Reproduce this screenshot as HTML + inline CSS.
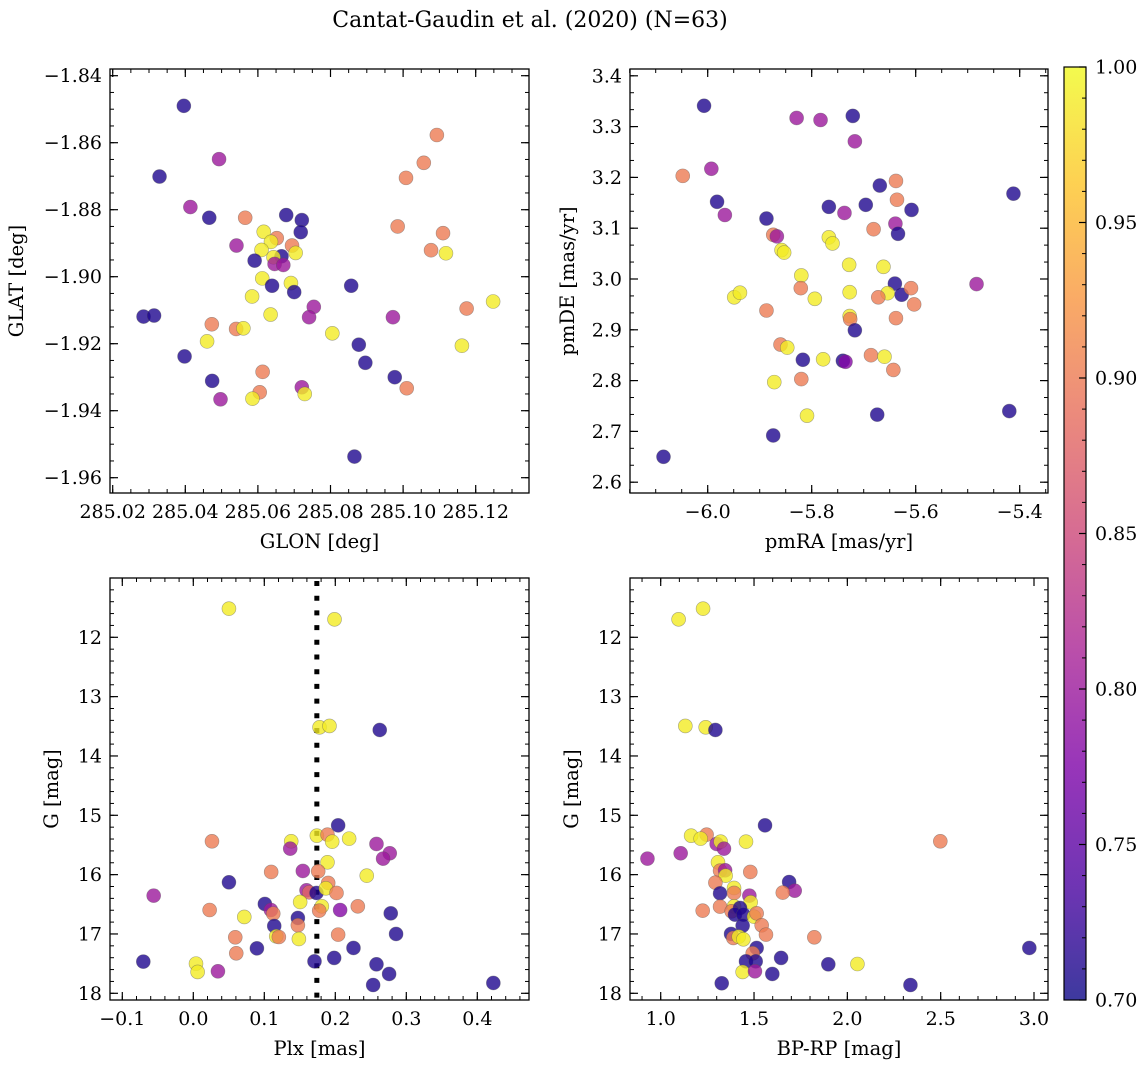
<!DOCTYPE html>
<html><head><meta charset="utf-8">
<style>
html,body{margin:0;padding:0;background:#fff;}
svg{display:block;font-family:"DejaVu Serif","Liberation Serif",serif;}
</style></head>
<body>
<svg id="fig" width="1148" height="1067" viewBox="0 0 1148 1067" xmlns="http://www.w3.org/2000/svg">
<defs>
<linearGradient id="cbgrad" x1="0" y1="1" x2="0" y2="0">
<stop offset="0" stop-color="#0d0887"/><stop offset="0.125" stop-color="#4c02a1"/><stop offset="0.25" stop-color="#7e03a8"/><stop offset="0.375" stop-color="#a92395"/><stop offset="0.5" stop-color="#cc4778"/><stop offset="0.625" stop-color="#e66c5c"/><stop offset="0.75" stop-color="#f89540"/><stop offset="0.875" stop-color="#fdc527"/><stop offset="1" stop-color="#f0f921"/>
</linearGradient>
</defs>
<text x="530" y="27" text-anchor="middle" font-size="22">Cantat-Gaudin et al. (2020) (N=63)</text>
<g id="plots"></g>
<g>
<rect x="1064" y="67" width="22" height="933" fill="url(#cbgrad)" fill-opacity="0.8"/>
<rect x="1064" y="67" width="22" height="933" fill="none" stroke="#000" stroke-width="1.2"/>
<g id="cbticks"></g>
</g>
</svg>
<script>
// ---------- data ----------
const tlGlon=[285.0396,285.0329,285.0493,285.0414,285.0466,285.0565,285.0678,285.0721,285.0718,285.0616,285.0652,285.0636,285.0694,285.0704,285.0541,285.0610,285.0665,285.0643,285.0646,285.0670,285.0591,285.0612,285.0639,285.0691,285.0700,285.0584,285.0857,285.0754,285.0741,285.0635,285.0285,285.0314,285.0473,285.0540,285.0560,285.0460,285.0805,285.0972,285.0878,285.0896,285.0398,285.0474,285.0613,285.0497,285.0605,285.0585,285.0721,285.0729,285.0977,285.1010,285.0866,285.1093,285.1057,285.1008,285.0985,285.1110,285.1077,285.1118,285.1248,285.1175,285.1162];
const tlGlat=[-1.8490,-1.8701,-1.8649,-1.8792,-1.8824,-1.8824,-1.8816,-1.8831,-1.8867,-1.8866,-1.8885,-1.8896,-1.8907,-1.8929,-1.8907,-1.8920,-1.8939,-1.8942,-1.8962,-1.8965,-1.8952,-1.9005,-1.9027,-1.9019,-1.9046,-1.9059,-1.9027,-1.9090,-1.9121,-1.9113,-1.9119,-1.9116,-1.9142,-1.9156,-1.9154,-1.9193,-1.9169,-1.9121,-1.9203,-1.9257,-1.9238,-1.9311,-1.9284,-1.9366,-1.9345,-1.9364,-1.9330,-1.9350,-1.9300,-1.9333,-1.9537,-1.8577,-1.8660,-1.8705,-1.8850,-1.8870,-1.8921,-1.8930,-1.9074,-1.9095,-1.9206];
const tlProb=[0.71,0.71,0.80,0.80,0.71,0.90,0.71,0.71,0.71,0.99,0.90,0.99,0.90,0.99,0.80,0.99,0.71,0.99,0.80,0.80,0.71,0.99,0.71,0.99,0.71,0.99,0.71,0.80,0.80,0.99,0.71,0.71,0.90,0.90,0.99,0.99,0.99,0.80,0.71,0.71,0.71,0.71,0.90,0.80,0.90,0.99,0.80,0.99,0.71,0.90,0.71,0.90,0.90,0.90,0.90,0.90,0.90,0.99,0.99,0.90,0.99];

const trPmra=[-6.007,-5.829,-5.783,-5.721,-5.717,-5.993,-6.048,-5.982,-5.967,-5.887,-5.874,-5.867,-5.858,-5.853,-5.767,-5.737,-5.767,-5.760,-5.696,-5.669,-5.638,-5.636,-5.608,-5.681,-5.639,-5.634,-5.412,-5.483,-5.728,-5.662,-5.820,-5.821,-5.794,-5.727,-5.949,-5.938,-5.887,-5.640,-5.627,-5.609,-5.654,-5.672,-5.603,-5.727,-5.726,-5.638,-5.717,-5.860,-5.847,-5.817,-5.778,-5.740,-5.735,-5.686,-5.660,-5.643,-5.872,-5.820,-5.809,-5.674,-5.420,-5.874,-6.085];
const trPmde=[3.341,3.317,3.313,3.321,3.271,3.217,3.203,3.152,3.126,3.119,3.087,3.084,3.057,3.052,3.142,3.130,3.082,3.070,3.146,3.184,3.193,3.156,3.136,3.098,3.109,3.089,3.168,2.990,3.028,3.024,3.007,2.982,2.961,2.974,2.964,2.973,2.938,2.991,2.969,2.982,2.972,2.964,2.950,2.927,2.921,2.923,2.899,2.871,2.865,2.841,2.842,2.839,2.837,2.850,2.847,2.821,2.797,2.803,2.731,2.733,2.740,2.692,2.650];
const trProb=[0.71,0.80,0.80,0.71,0.80,0.80,0.90,0.71,0.80,0.71,0.90,0.80,0.99,0.99,0.71,0.80,0.99,0.99,0.71,0.71,0.90,0.90,0.71,0.90,0.80,0.71,0.71,0.80,0.99,0.99,0.99,0.90,0.99,0.99,0.99,0.99,0.90,0.71,0.71,0.90,0.99,0.90,0.90,0.99,0.90,0.90,0.71,0.90,0.99,0.71,0.99,0.71,0.78,0.90,0.99,0.90,0.99,0.90,0.99,0.71,0.71,0.71,0.71];

const blPlx=[0.0502,0.1989,0.1778,0.1918,0.2626,0.2040,0.0263,0.1379,0.1365,0.1740,0.1890,0.1956,0.2195,0.2580,0.2767,0.2673,0.1890,0.1097,0.1543,0.1759,0.2443,0.0502,-0.0558,0.1595,0.1632,0.1735,0.1900,0.1867,0.2017,0.1505,0.1008,0.1093,0.1126,0.0230,0.0718,0.1473,0.1473,0.1140,0.1810,0.1773,0.2068,0.2317,0.2781,0.2856,0.2040,0.0591,0.1168,0.1205,0.1487,0.0896,0.2256,0.0605,0.1707,0.1984,-0.0704,0.0038,0.0061,0.0347,0.2580,0.2758,0.2533,0.4226];
const blG=[11.517,11.697,13.517,13.494,13.562,15.169,15.438,15.438,15.562,15.343,15.326,15.444,15.393,15.483,15.640,15.730,15.792,15.955,15.938,15.944,16.017,16.129,16.354,16.264,16.298,16.309,16.140,16.230,16.309,16.461,16.494,16.596,16.657,16.596,16.713,16.730,16.854,16.865,16.534,16.607,16.596,16.534,16.652,17.000,17.011,17.056,17.039,17.051,17.084,17.242,17.236,17.326,17.461,17.404,17.466,17.500,17.640,17.629,17.511,17.674,17.860,17.826];
const blProb=[0.99,0.99,0.99,0.99,0.71,0.71,0.90,0.99,0.80,0.99,0.90,0.99,0.99,0.80,0.80,0.80,0.99,0.90,0.80,0.90,0.99,0.71,0.80,0.80,0.88,0.71,0.90,0.99,0.90,0.99,0.71,0.80,0.90,0.90,0.99,0.71,0.90,0.71,0.99,0.90,0.78,0.90,0.71,0.71,0.90,0.90,0.99,0.90,0.99,0.71,0.71,0.90,0.71,0.71,0.71,0.99,0.99,0.80,0.71,0.71,0.71,0.71];
const plxMedian=0.174;

const brBprp=[1.096,1.227,1.132,1.241,1.293,1.559,2.498,1.163,1.246,1.214,1.300,1.321,1.457,1.339,1.107,0.929,1.307,1.318,1.345,1.348,1.480,1.688,1.718,1.654,1.293,1.318,1.393,1.393,1.475,1.482,1.225,1.318,1.393,1.380,1.425,1.398,1.443,1.500,1.514,1.439,1.541,1.564,1.377,1.389,1.418,1.443,1.823,1.514,1.493,1.645,1.898,2.054,2.975,1.457,1.509,1.439,1.505,1.598,1.327,2.338];
const brG=[11.697,11.517,13.494,13.517,13.562,15.169,15.438,15.343,15.326,15.393,15.483,15.444,15.444,15.562,15.640,15.730,15.792,15.933,15.927,16.017,15.955,16.124,16.270,16.303,16.135,16.315,16.225,16.309,16.354,16.466,16.607,16.539,16.534,16.618,16.562,16.674,16.674,16.708,16.652,16.860,16.854,17.011,17.000,17.067,17.045,17.090,17.056,17.236,17.326,17.404,17.511,17.506,17.236,17.461,17.461,17.640,17.629,17.674,17.831,17.860];
const brProb=[0.99,0.99,0.99,0.99,0.71,0.71,0.90,0.99,0.90,0.99,0.80,0.99,0.99,0.80,0.80,0.80,0.99,0.90,0.80,0.99,0.90,0.71,0.80,0.90,0.90,0.71,0.99,0.90,0.80,0.99,0.90,0.90,0.99,0.90,0.71,0.71,0.71,0.99,0.90,0.71,0.90,0.90,0.71,0.90,0.99,0.99,0.90,0.71,0.90,0.71,0.71,0.99,0.71,0.71,0.71,0.99,0.80,0.71,0.71,0.71];

const cbTicks=[0.70,0.75,0.80,0.85,0.90,0.95,1.00];

// ---------- helpers ----------
const NS="http://www.w3.org/2000/svg";
const stops=[[0,13,8,135],[0.125,76,2,161],[0.25,126,3,168],[0.375,169,35,149],[0.5,204,71,120],[0.625,230,108,92],[0.75,248,149,64],[0.875,253,197,39],[1,240,249,33]];
function plasma(t){t=Math.max(0,Math.min(1,t));for(let i=1;i<stops.length;i++){if(t<=stops[i][0]){const a=stops[i-1],b=stops[i],f=(t-a[0])/(b[0]-a[0]);return `rgb(${Math.round(a[1]+f*(b[1]-a[1]))},${Math.round(a[2]+f*(b[2]-a[2]))},${Math.round(a[3]+f*(b[3]-a[3]))})`;}}return "rgb(240,249,33)";}
function mk(tag,attrs,parent){const e=document.createElementNS(NS,tag);for(const k in attrs)e.setAttribute(k,attrs[k]);parent.appendChild(e);return e;}
function lin(v0,p0,v1,p1){return v=>p0+(v-v0)*(p1-p0)/(v1-v0);}
const fmt=(v,d)=>{const s=Math.abs(v).toFixed(d);return (v<-1e-9?"\u2212":"")+s;};
const root=document.getElementById('plots');

function panel(cfg){
  const g=mk('g',{},root);
  
  
  const {L,R,T,B}=cfg;
  const sx=cfg.sx, sy=cfg.sy;
  const ticks=mk('g',{stroke:'#000','stroke-width':1},g);
  
  
  for(let v=cfg.xmin;v<=cfg.xmax+1e-9;v+=cfg.xminor){const x=sx(v);if(x<L-0.5||x>R+0.5)continue;
    mk('line',{x1:x,x2:x,y1:B,y2:B-4},ticks);mk('line',{x1:x,x2:x,y1:T,y2:T+4},ticks);}
  for(let v=cfg.ymin;v<=cfg.ymax+1e-9;v+=cfg.yminor){const y=sy(v);if(y<T-0.5||y>B+0.5)continue;
    mk('line',{x1:L,x2:L+4,y1:y,y2:y},ticks);mk('line',{x1:R,x2:R-4,y1:y,y2:y},ticks);}
  const labs=mk('g',{'font-size':19,fill:'#000'},g);
  for(const v of cfg.xmaj){const x=sx(v);
    mk('line',{x1:x,x2:x,y1:B,y2:B-8,'stroke-width':1.2},ticks);mk('line',{x1:x,x2:x,y1:T,y2:T+8,'stroke-width':1.2},ticks);
    const t=mk('text',{x:x,y:B+25,'text-anchor':'middle'},labs);t.textContent=fmt(v,cfg.xd);
    }
  for(const v of cfg.ymaj){const y=sy(v);
    mk('line',{x1:L,x2:L+8,y1:y,y2:y,'stroke-width':1.2},ticks);mk('line',{x1:R,x2:R-8,y1:y,y2:y,'stroke-width':1.2},ticks);
    const t=mk('text',{x:L-8,y:y+6.5,'text-anchor':'end'},labs);t.textContent=fmt(v,cfg.yd);
    }
  const xt=mk('text',{x:(L+R)/2,y:B+55,'text-anchor':'middle','font-size':19.5},g);xt.textContent=cfg.xlabel;
  
  const yt=mk('text',{x:cfg.ylx,y:(T+B)/2,'text-anchor':'middle','font-size':19.5,transform:`rotate(-90 ${cfg.ylx} ${(T+B)/2})`},g);yt.textContent=cfg.ylabel;
  
  const clipId='c'+cfg.name;const cp=mk('clipPath',{id:clipId},g);mk('rect',{x:L,y:T,width:R-L,height:B-T},cp);
  const pts=mk('g',{'clip-path':`url(#${clipId})`},g);
  if(cfg.extra)cfg.extra(pts,sx,sy);
  for(let i=0;i<cfg.xs.length;i++){
    const c=mk('circle',{cx:sx(cfg.xs[i]),cy:sy(cfg.ys[i]),r:7,fill:plasma((cfg.ps[i]-0.7)/0.3),'fill-opacity':0.8,stroke:'#555','stroke-opacity':0.5,'stroke-width':0.6},pts);
    
    
  }
  const fr=mk('rect',{x:L,y:T,width:R-L,height:B-T,fill:'none',stroke:'#000','stroke-width':1.3},g);
  
}
const rng=(a,b,s)=>{const o=[];for(let v=a;v<=b+1e-9;v+=s)o.push(+v.toFixed(6));return o;};

panel({name:'glon-glat-panel',L:110,R:529,T:69,B:493,
  sx:lin(285.02,112.7,285.12,475.7),sy:lin(-1.84,75.7,-1.96,477.7),
  xmin:285.015,xmax:285.14,xminor:0.005,ymin:-1.965,ymax:-1.835,yminor:0.005,
  xmaj:rng(285.02,285.12,0.02),ymaj:rng(-1.96,-1.84,0.02),xd:2,yd:2,
  xlabel:'GLON [deg]',ylabel:'GLAT [deg]',ylx:23,xs:tlGlon,ys:tlGlat,ps:tlProb});
panel({name:'proper-motion-panel',L:630,R:1048,T:69,B:493,
  sx:lin(-6.0,707.7,-5.4,1019.7),sy:lin(3.0,279,3.4,75.8),
  xmin:-6.15,xmax:-5.3,xminor:0.05,ymin:2.5667,ymax:3.4334,yminor:0.1/3,
  xmaj:rng(-6.0,-5.4,0.2),ymaj:rng(2.6,3.4,0.1),xd:1,yd:1,
  xlabel:'pmRA [mas/yr]',ylabel:'pmDE [mas/yr]',ylx:574,xs:trPmra,ys:trPmde,ps:trProb});
panel({name:'parallax-magnitude-panel',L:110,R:529,T:578,B:1000,
  sx:lin(0,193.3,0.4,477.3),sy:lin(12,637.3,18,993.3),
  xmin:-0.12,xmax:0.48,xminor:0.02,ymin:11.0,ymax:18.2,yminor:0.2,
  xmaj:rng(-0.1,0.4,0.1),ymaj:rng(12,18,1),xd:1,yd:0,
  xlabel:'Plx [mas]',ylabel:'G [mag]',ylx:58,xs:blPlx,ys:blG,ps:blProb,
  extra:(gp,sx,sy)=>{const l=mk('line',{x1:sx(plxMedian),x2:sx(plxMedian),y1:581,y2:1000,stroke:'#000','stroke-width':5,'stroke-dasharray':'5,9.7'},gp);
    }});
panel({name:'color-magnitude-panel',L:630,R:1048,T:578,B:1000,
  sx:lin(1.0,660.7,3.0,1034),sy:lin(12,637.3,18,993.3),
  xmin:0.8,xmax:3.2,xminor:0.1,ymin:11.0,ymax:18.2,yminor:0.2,
  xmaj:rng(1.0,3.0,0.5),ymaj:rng(12,18,1),xd:1,yd:0,
  xlabel:'BP-RP [mag]',ylabel:'G [mag]',ylx:578,xs:brBprp,ys:brG,ps:brProb});

// colorbar ticks
const cb=document.getElementById('cbticks');
const cy=lin(0.70,1000,1.00,67);
for(let v=0.70;v<=1.0001;v+=0.01){const y=cy(v);mk('line',{x1:1086,x2:1082,y1:y,y2:y,stroke:'#000','stroke-width':1},cb);}
for(const v of cbTicks){const y=cy(v);mk('line',{x1:1086,x2:1079,y1:y,y2:y,stroke:'#000','stroke-width':1.2},cb);
  const t=mk('text',{x:1095,y:y+6.5,'font-size':19},cb);t.textContent=v.toFixed(2);
  }
</script>
</body></html>
